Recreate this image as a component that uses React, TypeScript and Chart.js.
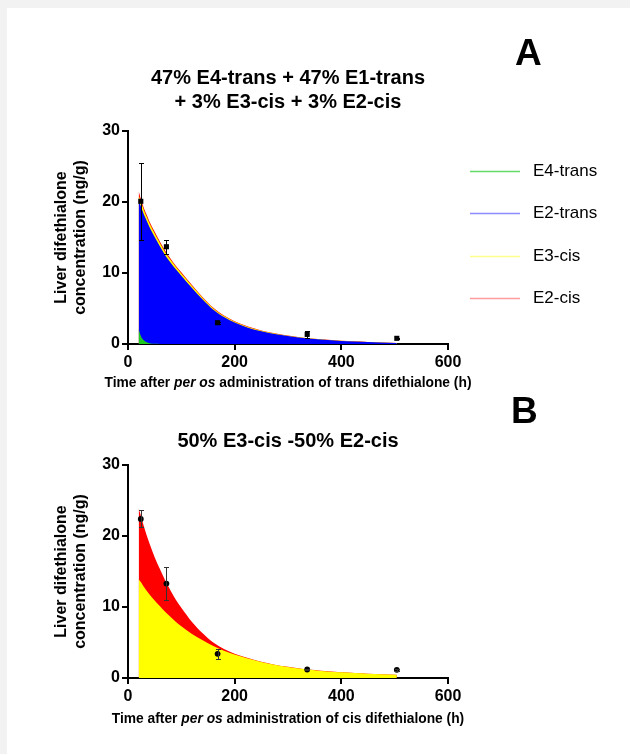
import React, { useEffect, useRef } from 'react';
import { Chart, registerables } from 'chart.js';

Chart.register(...registerables);

const FONT = "'Liberation Sans', Arial, Helvetica, sans-serif";

// ---------- Panel A : trans difethialone ----------
const timesA = [20, 22, 25, 30, 35, 40, 50, 60, 70, 80, 90, 100, 120, 140, 160, 180, 200, 225, 250, 275, 300, 325, 350, 375, 400, 425, 450, 475, 504];
const e4TransA = [2.2, 1.6, 1.0, 0.5, 0.25, 0.12, 0.03, 0.01, 0, 0, 0, 0, 0, 0, 0, 0, 0, 0, 0, 0, 0, 0, 0, 0, 0, 0, 0, 0, 0];
const e2TransA = [18.0, 18.23, 18.22, 17.71, 17.11, 16.39, 15.04, 13.72, 12.48, 11.44, 10.48, 9.62, 7.9, 6.27, 4.83, 3.79, 3.03, 2.3, 1.79, 1.41, 1.12, 0.87, 0.7, 0.55, 0.43, 0.35, 0.28, 0.21, 0.14];
const e3CisA = [0.7, 0.67, 0.63, 0.59, 0.56, 0.53, 0.49, 0.45, 0.42, 0.38, 0.35, 0.32, 0.27, 0.22, 0.18, 0.14, 0.11, 0.1, 0.07, 0.06, 0.04, 0.04, 0.03, 0.03, 0.03, 0.01, 0.01, 0.01, 0.01];
const e2CisA = [0.6, 0.5, 0.35, 0.3, 0.28, 0.26, 0.24, 0.22, 0.2, 0.18, 0.17, 0.16, 0.13, 0.11, 0.09, 0.07, 0.06, 0.05, 0.04, 0.03, 0.02, 0.02, 0.01, 0.01, 0.01, 0.01, 0, 0, 0];
const obsTimesA = [24, 72, 168, 336, 504];
const obsMeanA = [20.1, 13.7, 3.0, 1.35, 0.8];
const obsSdA = [5.4, 1.0, 0.15, 0.45, 0.1];

// ---------- Panel B : cis difethialone ----------
const timesB = [20, 25, 30, 40, 50, 60, 70, 80, 90, 100, 120, 140, 160, 180, 200, 225, 250, 275, 300, 325, 350, 375, 400, 425, 450, 475, 504];
const e3CisB = [13.9, 13.4, 12.8, 11.8, 10.9, 10.1, 9.3, 8.6, 7.9, 7.3, 6.2, 5.3, 4.5, 3.85, 3.3, 2.75, 2.25, 1.85, 1.55, 1.3, 1.1, 0.93, 0.8, 0.7, 0.6, 0.52, 0.45];
const e2CisB = [10.0, 9.2, 8.5, 7.2, 6.1, 5.2, 4.4, 3.7, 3.1, 2.6, 1.7, 1.0, 0.5, 0.25, 0.12, 0.06, 0.04, 0.03, 0.02, 0.02, 0.01, 0.01, 0.01, 0.01, 0.01, 0.01, 0.01];
const obsTimesB = [24, 72, 168, 336, 504];
const obsMeanB = [22.4, 13.3, 3.4, 1.2, 1.15];
const obsSdB = [1.2, 2.3, 0.75, 0.1, 0.1];

// ---------- Axes ----------
const xTicks = [0, 200, 400, 600];
const yTicks = [0, 10, 20, 30];
const yTitleLines = ['Liver difethialone', 'concentration (ng/g)'];

const GREEN = '#1ec81e';
const BLUE = '#0000ff';
const YELLOW = '#ffff00';
const RED = '#ff0000';

const pts = (xs: number[], ys: number[]) => xs.map((x, i) => ({ x, y: ys[i] }));

const errorBars = {
  id: 'errorBars',
  afterDatasetsDraw(chart: any) {
    const { ctx } = chart;
    const xs = chart.scales.x;
    const ys = chart.scales.y;
    chart.data.datasets.forEach((ds: any) => {
      if (!ds.errors) return;
      ctx.save();
      ctx.strokeStyle = ds.errorColor || '#000';
      ctx.lineWidth = 1;
      ds.data.forEach((p: any, i: number) => {
        const e = ds.errors[i];
        if (!e) return;
        const x = Math.round(xs.getPixelForValue(p.x)) + 0.5;
        const yT = Math.round(ys.getPixelForValue(p.y + e)) + 0.5;
        const yB = Math.round(ys.getPixelForValue(p.y - e)) + 0.5;
        const cap = 2.5;
        ctx.beginPath();
        ctx.moveTo(x, yT); ctx.lineTo(x, yB);
        ctx.moveTo(x - cap, yT); ctx.lineTo(x + cap, yT);
        ctx.moveTo(x - cap, yB); ctx.lineTo(x + cap, yB);
        ctx.stroke();
      });
      ctx.restore();
    });
  },
};

const sideLegend = {
  id: 'sideLegend',
  afterDraw(chart: any, _args: any, opts: any) {
    if (!opts || !opts.display) return;
    const { ctx, chartArea } = chart;
    ctx.save();
    ctx.font = `17px ${FONT}`;
    ctx.textBaseline = 'middle';
    ctx.textAlign = 'left';
    const items = chart.data.datasets.filter((d: any) => d.legendColor);
    items.forEach((ds: any, i: number) => {
      const y = Math.round(chartArea.top + opts.top + i * opts.spacing) + 0.5;
      ctx.strokeStyle = ds.legendColor;
      ctx.lineWidth = 1.5;
      ctx.beginPath();
      ctx.moveTo(chartArea.right + opts.lineStart, y);
      ctx.lineTo(chartArea.right + opts.lineEnd, y);
      ctx.stroke();
      ctx.fillStyle = '#000';
      ctx.fillText(ds.label, chartArea.right + opts.textStart, y);
    });
    ctx.restore();
  },
};

const tickFont = { family: FONT, size: 16, weight: 'bold' as const };

function makeScales() {
  return {
    x: {
      type: 'linear',
      min: 0,
      max: 600,
      afterBuildTicks: (s: any) => { s.ticks = xTicks.map((v) => ({ value: v })); },
      ticks: { font: tickFont, color: '#000', padding: 3, maxRotation: 0 },
      grid: { drawOnChartArea: false, drawTicks: true, tickLength: 6, color: '#000', lineWidth: 2, tickWidth: 2 },
      border: { display: true, color: '#000', width: 2 },
      afterFit: (s: any) => { s.height = 30; },
    },
    y: {
      type: 'linear',
      min: 0,
      max: 30,
      stacked: true,
      afterBuildTicks: (s: any) => { s.ticks = yTicks.map((v) => ({ value: v })); },
      ticks: { font: tickFont, color: '#000', padding: 2 },
      grid: { drawOnChartArea: false, drawTicks: true, tickLength: 6, color: '#000', lineWidth: 2, tickWidth: 2 },
      border: { display: true, color: '#000', width: 2 },
      title: {
        display: true,
        text: yTitleLines,
        font: { family: FONT, size: 16, weight: 'bold' },
        color: '#000',
        padding: { top: 52, bottom: 0 },
      },
      afterFit: (s: any) => { s.width = 128; },
    },
  };
}

// Each component is stacked on the ones before it; every layer is filled down to
// the axis and drawn back-to-front, so adjacent layers meet without seams.
function area(label: string, xs: number[], ys: number[], color: string, legendColor: string | null) {
  return {
    label,
    data: pts(xs, ys),
    backgroundColor: color,
    borderColor: color,
    borderWidth: 0,
    fill: 'origin',
    pointRadius: 0,
    cubicInterpolationMode: 'monotone',
    stack: 'model',
    legendColor,
  };
}

function observed(xs: number[], ys: number[], sd: number[], style: string, errColor: string) {
  return {
    label: 'observed',
    data: pts(xs, ys),
    showLine: false,
    pointStyle: style,
    pointRadius: style === 'rect' ? 3.6 : 2.9,
    pointBackgroundColor: '#000',
    pointBorderColor: '#000',
    pointBorderWidth: 0,
    fill: false,
    stack: 'obs',
    order: -1,
    errors: sd,
    errorColor: errColor,
  };
}

function configA(): any {
  return {
    type: 'line',
    data: {
      datasets: [
        area('E4-trans', timesA, e4TransA, GREEN, '#66d966'),
        area('E2-trans', timesA, e2TransA, BLUE, '#8c8cff'),
        area('E3-cis', timesA, e3CisA, YELLOW, '#ffff8c'),
        area('E2-cis', timesA, e2CisA, RED, '#ff9c9c'),
        observed(obsTimesA, obsMeanA, obsSdA, 'rect', '#000'),
      ],
    },
    options: {
      animation: false,
      responsive: false,
      events: [],
      layout: { padding: { left: 0, top: 131, right: 182, bottom: 26 } },
      plugins: {
        legend: { display: false },
        tooltip: { enabled: false },
        sideLegend: { display: true, top: 40, spacing: 42.4, lineStart: 22, lineEnd: 72, textStart: 85 },
      },
      scales: makeScales(),
    },
    plugins: [errorBars, sideLegend],
  };
}

function configB(): any {
  return {
    type: 'line',
    data: {
      datasets: [
        area('E3-cis', timesB, e3CisB, YELLOW, null),
        area('E2-cis', timesB, e2CisB, RED, null),
        observed(obsTimesB, obsMeanB, obsSdB, 'circle', '#333'),
      ],
    },
    options: {
      animation: false,
      responsive: false,
      events: [],
      layout: { padding: { left: 0, top: 65, right: 182, bottom: 46 } },
      plugins: {
        legend: { display: false },
        tooltip: { enabled: false },
        sideLegend: { display: false },
      },
      scales: makeScales(),
    },
    plugins: [errorBars, sideLegend],
  };
}

function ChartCanvas({ make, top, height }: { make: () => any; top: number; height: number }) {
  const ref = useRef<HTMLCanvasElement | null>(null);
  useEffect(() => {
    if (!ref.current) return;
    const chart = new Chart(ref.current, make());
    return () => chart.destroy();
  }, [make]);
  return (
    <canvas
      ref={ref}
      width={630}
      height={height}
      style={{ position: 'absolute', left: 0, top, width: 630, height }}
    />
  );
}

const textBase: React.CSSProperties = {
  position: 'absolute',
  fontFamily: FONT,
  fontWeight: 'bold',
  color: '#000',
  whiteSpace: 'nowrap',
  margin: 0,
};

export default function App() {
  return (
    <div style={{ position: 'absolute', left: 0, top: 0, width: 630, height: 754, background: '#f2f2f2', overflow: 'hidden' }}>
      <div style={{ position: 'absolute', left: 7, top: 8, width: 623, height: 746, background: '#ffffff' }} />
      <ChartCanvas make={configA} top={0} height={400} />
      <ChartCanvas make={configB} top={400} height={354} />
      <div style={{ ...textBase, left: 88, width: 400, top: 65.4, textAlign: 'center', fontSize: 20, lineHeight: '24px' }}>
        47% E4-trans + 47% E1-trans
        <br />+ 3% E3-cis + 3% E2-cis
      </div>
      <div style={{ ...textBase, left: 515, top: 34, fontSize: 37, lineHeight: '37px' }}>A</div>
      <div style={{ ...textBase, left: 88, width: 400, top: 375.7, textAlign: 'center', fontSize: 13.8, lineHeight: '13.8px' }}>
        Time after <i>per os</i> administration of trans difethialone (h)
      </div>
      <div style={{ ...textBase, left: 88, width: 400, top: 430, textAlign: 'center', fontSize: 20, lineHeight: '20px' }}>
        50% E3-cis -50% E2-cis
      </div>
      <div style={{ ...textBase, left: 511, top: 392.2, fontSize: 37, lineHeight: '37px' }}>B</div>
      <div style={{ ...textBase, left: 88, width: 400, top: 712.2, textAlign: 'center', fontSize: 13.8, lineHeight: '13.8px' }}>
        Time after <i>per os</i> administration of cis difethialone (h)
      </div>
    </div>
  );
}
